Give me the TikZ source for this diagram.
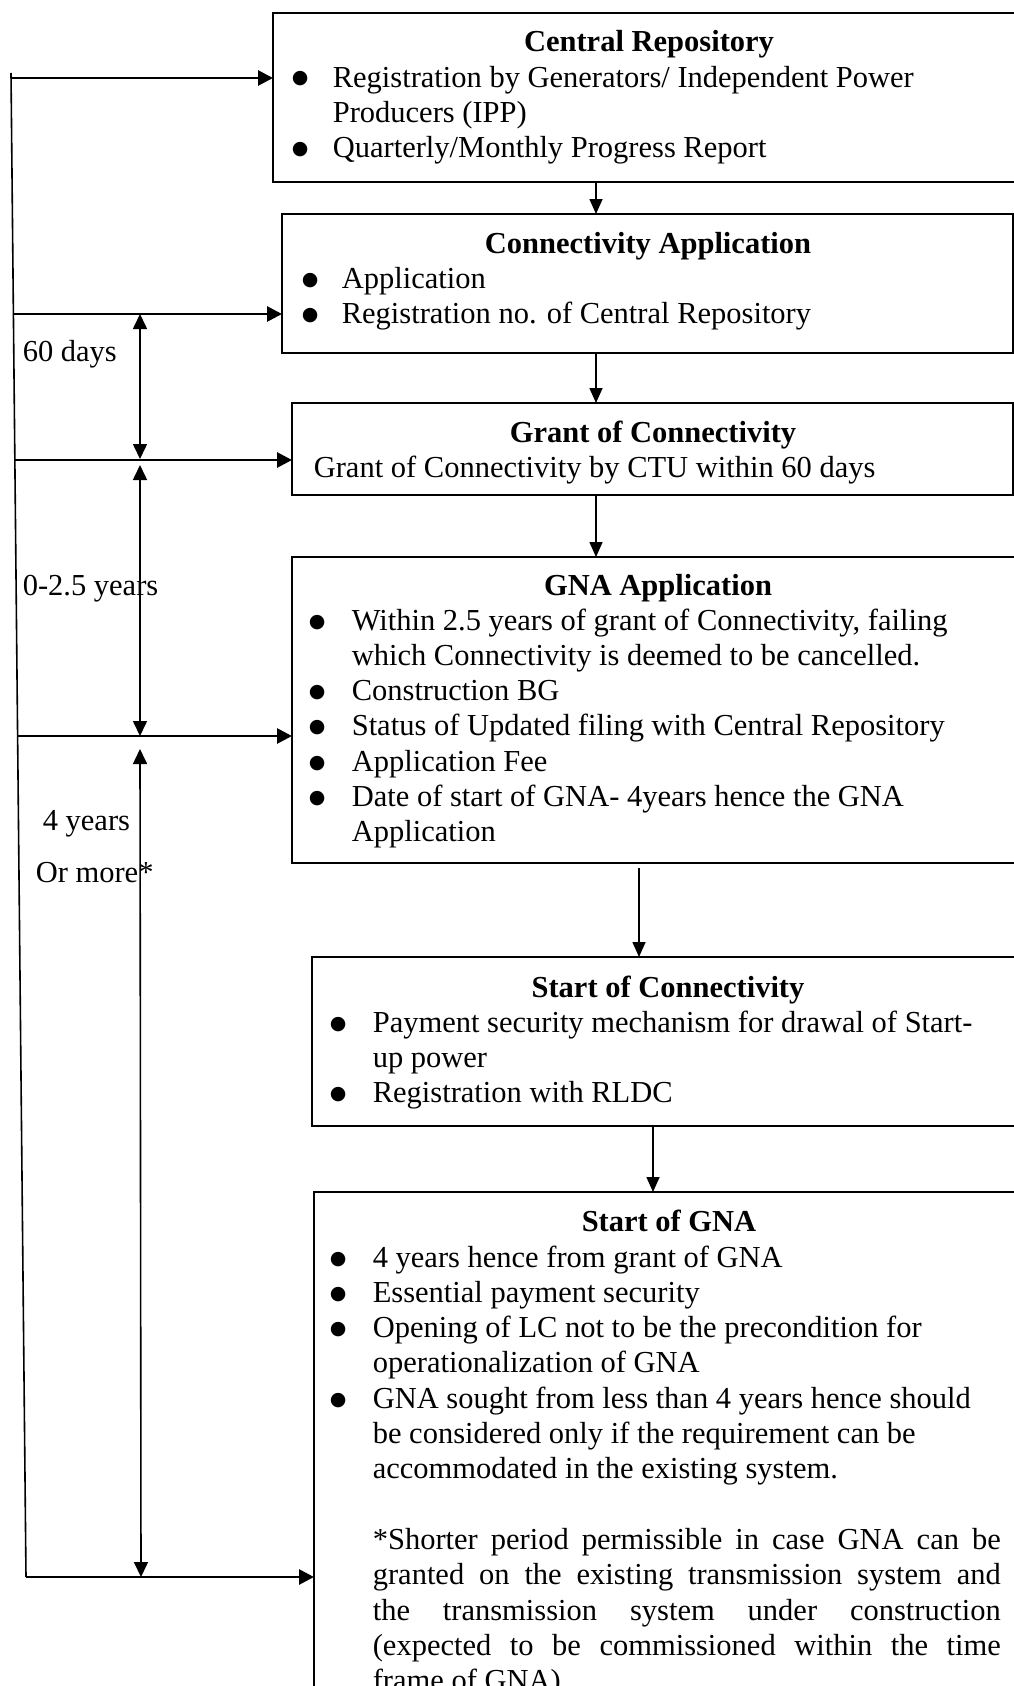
\documentclass[tikz,border=0pt]{standalone}
\usepackage{fontspec}
\setmainfont{Liberation Serif}
\newfontfamily\symfont{DejaVu Sans}
\usetikzlibrary{arrows.meta}

\newcommand{\blt}{\raisebox{3pt}{\fontsize{19}{20}\symfont ●}}

\begin{document}
\begin{tikzpicture}[x=1pt, y=-1pt, line width=1.6pt,
		box/.style={draw, rectangle, anchor=north west, inner sep=0pt, outer sep=0pt},
		txt/.style={anchor=base west, inner sep=0pt, font=\fontsize{30.5}{35.3}\selectfont},
		ttl/.style={anchor=base, inner sep=0pt, font=\fontsize{30.5}{35.3}\selectfont\bfseries},
		feed/.style={line width=2.8pt, -{Triangle[length=15pt, width=15pt]}},
		flow/.style={-{Triangle[length=15pt, width=13pt]}},
		span/.style={{Triangle[length=15pt, width=14pt]}-{Triangle[length=15pt, width=14pt]}}]
		% \draw[help lines] (0,0) grid (1014,1686);
		\useasboundingbox (0,0) rectangle (1014,1686);
		\clip (0,0) rectangle (1014,1686);

		\node (cr) at (273,13) [box, minimum width=757pt, minimum height=169pt] {};
		\node (ca) at (282,214) [box, minimum width=731pt, minimum height=139pt] {};
		\node (gc) at (292,403) [box, minimum width=721pt, minimum height=92pt] {};
		\node (ga) at (292,557) [box, minimum width=738pt, minimum height=306pt] {};
		\node (sc) at (312,957) [box, minimum width=718pt, minimum height=169pt] {};
		\node (sg) at (314,1192) [box, minimum width=716pt, minimum height=540pt] {};

		\node (crT) at (649,52) [ttl] {Central Repository};
		\node (crB) at (291,87) [txt] {\begin{tabular}[t]{@{}p{41pt}@{}l@{}}
			\blt & Registration by Generators/ Independent Power\\
			& Producers (IPP)\\
			\blt & Quarterly/Monthly Progress Report
		\end{tabular}};

		\node (caT) at (648,253) [ttl] {Connectivity Application};
		\node (caB) at (301,288) [txt] {\begin{tabular}[t]{@{}p{40pt}@{}l@{}}
			\blt & Application\\
			\blt & Registration no. of Central Repository
		\end{tabular}};

		\node (gcT) at (653,442) [ttl] {Grant of Connectivity};
		\node (gcB) at (313,477) [txt] {Grant of Connectivity by CTU within 60 days};

		\node (gaT) at (658,595) [ttl] {GNA Application};
		\node (gaB) at (308,630) [txt] {\begin{tabular}[t]{@{}p{43pt}@{}l@{}}
			\blt & Within 2.5 years of grant of Connectivity, failing\\
			& which Connectivity is deemed to be cancelled.\\
			\blt & Construction BG\\
			\blt & Status of Updated filing with Central Repository\\
			\blt & Application Fee\\
			\blt & Date of start of GNA- 4years hence the GNA\\
			& Application
		\end{tabular}};

		\node (scT) at (668,997) [ttl] {Start of Connectivity};
		\node (scB) at (329,1032) [txt] {\begin{tabular}[t]{@{}p{43pt}@{}l@{}}
			\blt & Payment security mechanism for drawal of Start-\\
			& up power\\
			\blt & Registration with RLDC
		\end{tabular}};

		\node (sgT) at (669,1231) [ttl] {Start of GNA};
		\node (sgB) at (329,1267) [txt] {\begin{tabular}[t]{@{}p{43pt}@{}l@{}}
			\blt & 4 years hence from grant of GNA\\
			\blt & Essential payment security\\
			\blt & Opening of LC not to be the precondition for\\
			& operationalization of GNA\\
			\blt & GNA sought from less than 4 years hence should\\
			& be considered only if the requirement can be\\
			& accommodated in the existing system.\\
			& \\
			& \makebox[628pt][s]{*Shorter period permissible in case GNA can be}\\
			& \makebox[628pt][s]{granted on the existing transmission system and}\\
			& \makebox[628pt][s]{the transmission system under construction}\\
			& \makebox[628pt][s]{(expected to be commissioned within the time}\\
			& frame of GNA)
		\end{tabular}};

		% flow between the boxes
		\coordinate (ax) at (596,0);
		\coordinate (bx) at (639,0);
		\coordinate (cx) at (653,0);
		\coordinate (g4) at (639,868);
		\draw[flow] (cr.south -| ax) -- (ca.north -| ax);
		\draw[flow] (ca.south -| ax) -- (gc.north -| ax);
		\draw[flow] (gc.south -| ax) -- (ga.north -| ax);
		\draw[flow] (g4) -- (sc.north -| bx);
		\draw[flow] (sc.south -| cx) -- (sg.north -| cx);

		% time line on the left
		\coordinate (top) at (11,73);
		\coordinate (l1) at (11.3,78);
		\coordinate (l2) at (13.4,314);
		\coordinate (l3) at (14.9,460);
		\coordinate (l4) at (17.6,736);
		\coordinate (l5) at (26,1577);
		\draw (top) -- (l5);
		\draw[feed] (l1) -- (l1 -| cr.west);
		\draw[feed] (l2) -- (l2 -| ca.west);
		\draw[feed] (l3) -- (l3 -| gc.west);
		\draw[feed] (l4) -- (l4 -| ga.west);
		\draw[feed] (l5) -- (l5 -| sg.west);

		\coordinate (d1) at (140,314);
		\coordinate (d2) at (140,459);
		\coordinate (d3) at (140,465);
		\coordinate (d4) at (140,736);
		\coordinate (d5) at (140,749);
		\coordinate (d6) at (141,1577);
		\draw[span] (d1) -- (d2);
		\draw[span] (d3) -- (d4);
		\draw[span] (d5) -- (d6);

		\node (lb1) at (22,361) [txt] {60 days};
		\node (lb2) at (22,595) [txt] {0-2.5 years};
		\node (lb3) at (42,830) [txt] {4 years};
		\node (lb4) at (35,882) [txt] {Or more*};
	\end{tikzpicture}
\end{document}
